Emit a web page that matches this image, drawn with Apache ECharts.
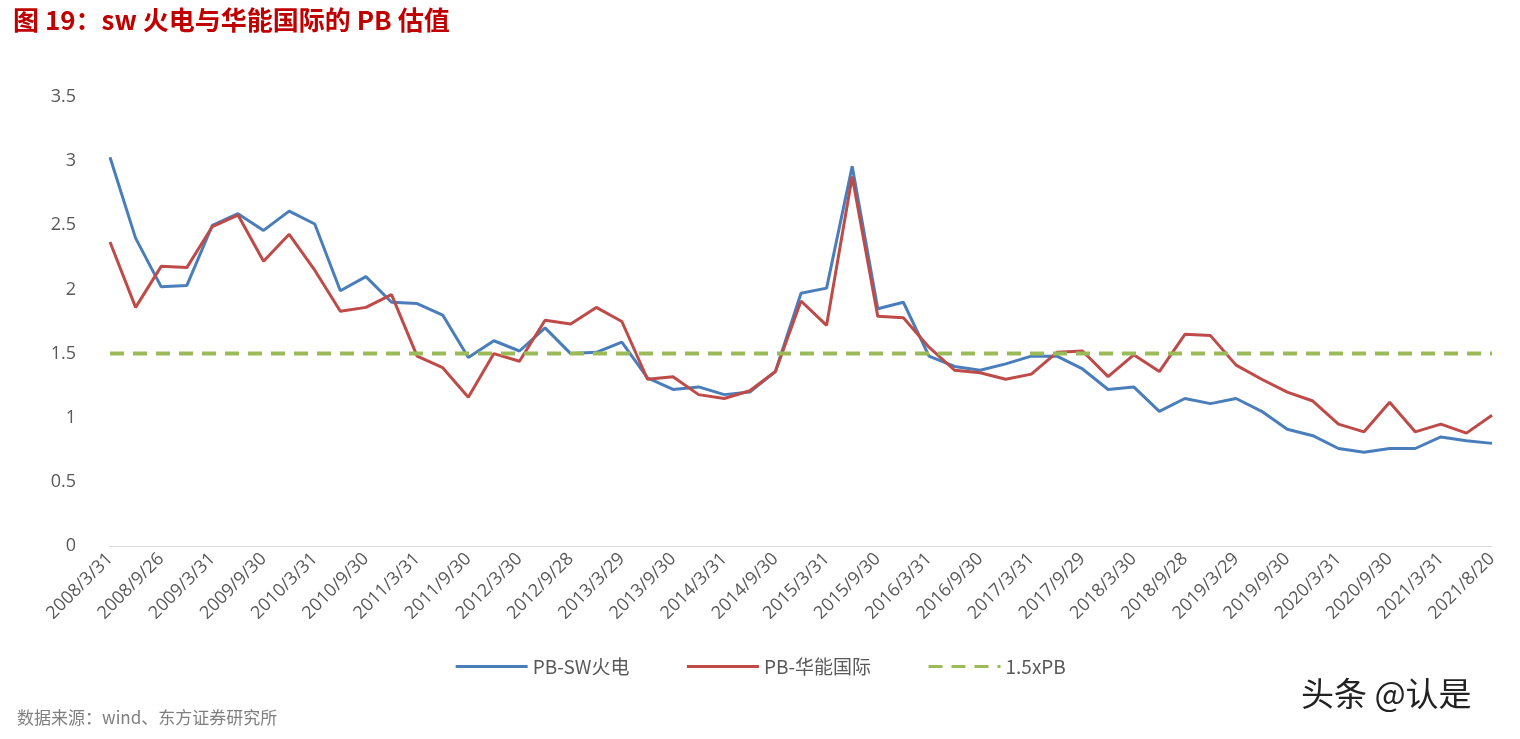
<!DOCTYPE html>
<html><head><meta charset="utf-8">
<script src="https://cdn.jsdelivr.net/npm/echarts@6/dist/echarts.min.js"></script>
<style>html,body{margin:0;padding:0;background:#fff}#main{width:1520px;height:739px}</style>
</head><body><div id="main"></div>
<script>
// quarterly dates, every second one shown as a tick label
const dates = ['2008/3/31','2008/6/30','2008/9/26','2008/12/31','2009/3/31','2009/6/30','2009/9/30','2009/12/31',
  '2010/3/31','2010/6/30','2010/9/30','2010/12/31','2011/3/31','2011/6/30','2011/9/30','2011/12/30',
  '2012/3/30','2012/6/29','2012/9/28','2012/12/31','2013/3/29','2013/6/28','2013/9/30','2013/12/31',
  '2014/3/31','2014/6/30','2014/9/30','2014/12/31','2015/3/31','2015/6/30','2015/9/30','2015/12/31',
  '2016/3/31','2016/6/30','2016/9/30','2016/12/30','2017/3/31','2017/6/30','2017/9/29','2017/12/29',
  '2018/3/30','2018/6/29','2018/9/28','2018/12/28','2019/3/29','2019/6/28','2019/9/30','2019/12/31',
  '2020/3/31','2020/6/30','2020/9/30','2020/12/31','2021/3/31','2021/6/30','2021/8/20'];
const pbSW = [3.03,2.40,2.02,2.03,2.50,2.59,2.46,2.61,2.51,1.99,2.10,1.90,1.89,1.80,1.47,1.60,
  1.52,1.70,1.50,1.51,1.59,1.31,1.22,1.24,1.18,1.20,1.36,1.97,2.01,2.96,1.85,1.90,
  1.48,1.40,1.37,1.42,1.48,1.48,1.38,1.22,1.24,1.05,1.15,1.11,1.15,1.05,0.91,0.86,
  0.76,0.73,0.76,0.76,0.85,0.82,0.80];
const pbHN = [2.37,1.86,2.18,2.17,2.49,2.58,2.22,2.43,2.15,1.83,1.86,1.96,1.48,1.39,1.16,1.50,
  1.44,1.76,1.73,1.86,1.75,1.30,1.32,1.18,1.15,1.21,1.36,1.91,1.72,2.88,1.79,1.78,
  1.55,1.37,1.35,1.30,1.34,1.51,1.52,1.32,1.49,1.36,1.65,1.64,1.41,1.30,1.20,1.13,
  0.95,0.89,1.12,0.89,0.95,0.88,1.02];
const pbLine = dates.map(() => 1.5);

let chart = echarts.init(document.getElementById('main'));
chart.setOption({
  animation: false,
  title: [
    {text: '图 19：sw 火电与华能国际的 PB 估值', left: 8, top: 2,
     textStyle: {color: '#c00000', fontSize: 26, fontWeight: 'bold', fontFamily: 'Noto Sans CJK SC'}},
    {text: '数据来源：wind、东方证券研究所', left: 12, top: 704,
     textStyle: {color: '#7f7f7f', fontSize: 17, fontWeight: 'normal', fontFamily: 'Noto Sans CJK SC'}},
    {text: '头条 @认是', left: 1296, top: 672,
     textStyle: {color: '#222', fontSize: 33, fontWeight: 'normal', fontFamily: 'Noto Sans CJK SC'}}
  ],
  legend: {
    bottom: 58, left: 'center', itemWidth: 72, itemHeight: 12, itemGap: 56,
    itemStyle: {opacity: 0},
    lineStyle: {width: 3},
    textStyle: {color: '#595959', fontSize: 19, fontFamily: 'Noto Sans CJK SC'},
    data: ['PB-SW火电', 'PB-华能国际', '1.5xPB']
  },
  grid: {left: 110, right: 28, top: 97, bottom: 193},
  xAxis: {
    type: 'category', data: dates, boundaryGap: false,
    axisLine: {lineStyle: {color: '#d9d9d9'}},
    axisTick: {show: false},
    axisLabel: {interval: 1, rotate: 45, color: '#595959', fontSize: 18, margin: 10, fontFamily: 'Open Sans'}
  },
  yAxis: {
    type: 'value', min: 0, max: 3.5, interval: 0.5,
    splitLine: {show: false}, axisLine: {show: false}, axisTick: {show: false},
    axisLabel: {color: '#595959', fontSize: 18, margin: 34, fontFamily: 'Open Sans'}
  },
  series: [
    {name: 'PB-SW火电', type: 'line', data: pbSW, symbol: 'none', itemStyle: {color: '#4a7ebb'}, lineStyle: {width: 3}},
    {name: 'PB-华能国际', type: 'line', data: pbHN, symbol: 'none', itemStyle: {color: '#be4b48'}, lineStyle: {width: 3}},
    {name: '1.5xPB', type: 'line', data: pbLine, symbol: 'none', itemStyle: {color: '#9bbb59'}, lineStyle: {width: 4, type: [14, 9]}}
  ]
});
</script></body></html>
